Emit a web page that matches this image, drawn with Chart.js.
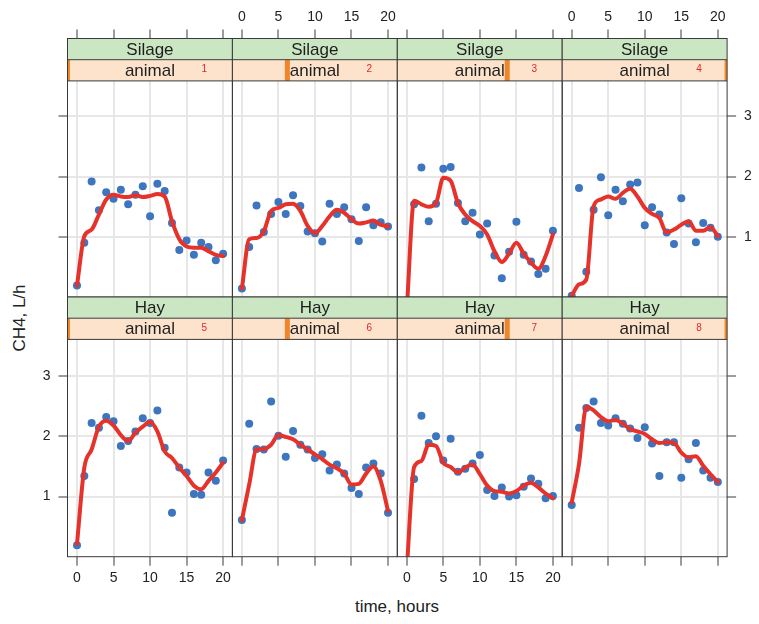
<!DOCTYPE html>
<html lang="en">
<head>
<meta charset="UTF-8">
<title>CH4 by animal and diet</title>
<script src="https://cdn.jsdelivr.net/npm/chart.js"></script>
<style>
  body { margin: 0; background: #fff; font-family: "Liberation Sans", Arial, sans-serif; }
  #wrap { position: relative; width: 759px; height: 624px; overflow: hidden; }
  #wrap canvas { position: absolute; left: 0; top: 0; }
  .ttl { position: absolute; color: #222; font-size: 17px; white-space: nowrap; transform: translate(-50%, -50%); }
  #yTitle { transform: translate(-50%, -50%) rotate(-90deg); }
</style>
</head>
<body>
<div id="wrap">
  <div class="ttl" id="xTitle" style="left:397px; top:607px;">time, hours</div>
  <div class="ttl" id="yTitle" style="left:20px; top:318px;">CH4, L/h</div>
</div>
<script>
// data
const hours = [0, 1, 2, 3, 4, 5, 6, 7, 8, 9, 10, 11, 12, 13, 14, 15, 16, 17, 18, 19, 20];
const xTicks = [0, 5, 10, 15, 20];
const yTicks = [1, 2, 3];
const diets = ['Silage', 'Silage', 'Silage', 'Silage', 'Hay', 'Hay', 'Hay', 'Hay'];
const animals = ['1', '2', '3', '4', '5', '6', '7', '8'];

const obs1 = [0.19, 0.90, 1.92, 1.44, 1.74, 1.63, 1.78, 1.54, 1.70, 1.84, 1.34, 1.88, 1.76, 1.23, 0.78, 0.94, 0.70, 0.90, 0.83, 0.61, 0.72];
const fit1 = [0.19, 1.01, 1.12, 1.37, 1.62, 1.70, 1.67, 1.66, 1.69, 1.66, 1.68, 1.71, 1.67, 1.26, 0.96, 0.84, 0.82, 0.82, 0.76, 0.70, 0.68];
const obs2 = [0.14, 0.83, 1.52, 1.08, 1.38, 1.58, 1.38, 1.69, 1.51, 1.09, 1.06, 0.92, 1.55, 1.38, 1.49, 1.29, 0.93, 1.49, 1.19, 1.24, 1.17];
const fit2 = [0.14, 0.96, 0.98, 1.09, 1.43, 1.48, 1.54, 1.55, 1.43, 1.18, 1.06, 1.18, 1.34, 1.45, 1.40, 1.29, 1.22, 1.24, 1.27, 1.20, 1.17];
const obs3 = [-0.2, 1.54, 2.15, 1.26, 1.55, 2.13, 2.16, 1.56, 1.26, 1.40, 1.04, 1.22, 0.69, 0.31, 0.75, 1.25, 0.70, 0.59, 0.38, 0.47, 1.10];
const fit3 = [-0.2, 1.60, 1.54, 1.50, 1.56, 1.98, 1.93, 1.56, 1.37, 1.26, 1.18, 1.04, 0.76, 0.58, 0.72, 0.90, 0.72, 0.57, 0.47, 0.68, 1.04];
const obs4 = [0.02, 1.81, 0.42, 1.45, 1.99, 1.36, 1.78, 1.59, 1.87, 1.90, 1.19, 1.49, 1.37, 1.07, 0.88, 1.64, 1.22, 0.91, 1.23, 1.15, 1.00];
const fit4 = [0.02, 0.21, 0.29, 1.51, 1.62, 1.67, 1.63, 1.73, 1.80, 1.67, 1.48, 1.38, 1.31, 1.07, 1.12, 1.20, 1.26, 1.10, 1.10, 1.16, 1.01];
const obs5 = [0.19, 1.34, 2.22, 2.14, 2.32, 2.25, 1.84, 1.92, 2.08, 2.30, 2.22, 2.43, 1.81, 0.73, 1.48, 1.40, 1.04, 1.03, 1.40, 1.26, 1.60];
const fit5 = [0.21, 1.48, 1.78, 2.16, 2.26, 2.18, 2.02, 1.92, 2.06, 2.16, 2.24, 2.08, 1.75, 1.64, 1.48, 1.34, 1.18, 1.12, 1.26, 1.40, 1.56];
const obs6 = [0.61, 2.21, 1.79, 1.78, 2.58, 2.01, 1.66, 2.09, 1.86, 1.78, 1.64, 1.70, 1.43, 1.53, 1.38, 1.14, 1.04, 1.48, 1.55, 1.38, 0.73];
const fit6 = [0.61, 1.20, 1.78, 1.79, 1.86, 2.02, 1.99, 1.95, 1.86, 1.78, 1.70, 1.62, 1.53, 1.47, 1.38, 1.20, 1.21, 1.38, 1.50, 1.26, 0.76];
const obs7 = [-0.2, 1.29, 2.34, 1.89, 2.00, 1.60, 1.96, 1.41, 1.46, 1.55, 1.69, 1.11, 1.01, 1.15, 1.00, 1.02, 1.16, 1.30, 1.21, 0.97, 1.01];
const fit7 = [-0.2, 1.49, 1.59, 1.86, 1.84, 1.56, 1.49, 1.40, 1.48, 1.53, 1.37, 1.18, 1.09, 1.08, 1.05, 1.09, 1.18, 1.23, 1.15, 1.05, 0.97];
const obs8 = [0.86, 2.14, 2.47, 2.58, 2.22, 2.18, 2.30, 2.21, 2.13, 1.97, 2.15, 1.88, 1.34, 1.90, 1.90, 1.31, 1.62, 1.89, 1.43, 1.31, 1.24];
const fit8 = [0.90, 1.54, 2.49, 2.43, 2.32, 2.25, 2.27, 2.21, 2.12, 2.08, 2.04, 1.95, 1.89, 1.90, 1.89, 1.73, 1.65, 1.67, 1.51, 1.37, 1.24];

const allObs = [obs1, obs2, obs3, obs4, obs5, obs6, obs7, obs8];
const allFit = [fit1, fit2, fit3, fit4, fit5, fit6, fit7, fit8];

// layout of the lattice
const W = 759, H = 624;
const panelLeft0 = 67.5, panelW = 164.9;
const rowTop = [38.5, 297], rowBottom = [297, 556.7];
const stripH = 21.2;
const pxPerUnit = 60.2;
const xMin = -1.3, xMax = 21.27;
const font = '"Liberation Sans", Arial, sans-serif';

const stripPlugin = {
  id: 'strips',
  afterDraw(chart, args, o) {
    const ctx = chart.ctx, a = chart.chartArea;
    ctx.save();
    ctx.fillStyle = '#cbe6c3';
    ctx.fillRect(a.left, a.top, a.width, stripH);
    ctx.fillStyle = '#fde3cc';
    ctx.fillRect(a.left, a.top + stripH, a.width, stripH);

    // level indicator in the animal strip
    ctx.save();
    ctx.beginPath();
    ctx.rect(a.left, a.top + stripH, a.width, stripH);
    ctx.clip();
    ctx.fillStyle = '#f2852a';
    ctx.fillRect(a.left + a.width * o.level / 3 - 2.5, a.top + stripH, 5, stripH);
    ctx.restore();

    ctx.fillStyle = '#1e1e1e';
    ctx.textAlign = 'center';
    ctx.textBaseline = 'middle';
    ctx.font = '17px ' + font;
    const cx = a.left + a.width / 2;
    ctx.fillText(o.diet, cx, a.top + stripH / 2 + 1);
    ctx.fillText('animal', cx, a.top + stripH * 1.5 + 1);
    ctx.fillStyle = '#e3262b';
    ctx.font = '10px ' + font;
    ctx.fillText(o.animal, a.left + a.width * 0.83, a.top + stripH * 1.5 - 1);

    ctx.strokeStyle = '#3a3a3a';
    ctx.lineWidth = 1;
    ctx.beginPath();
    ctx.moveTo(a.left, a.top + stripH); ctx.lineTo(a.right, a.top + stripH);
    ctx.moveTo(a.left, a.top + 2 * stripH); ctx.lineTo(a.right, a.top + 2 * stripH);
    ctx.stroke();
    ctx.strokeRect(a.left, a.top, a.width, a.height);
    ctx.restore();
  }
};

function makePanel(i) {
  const row = i < 4 ? 0 : 1, col = i % 4;
  const left = panelLeft0 + col * panelW, right = left + panelW;
  const top = rowTop[row], bottom = rowBottom[row];
  const yMax = (bottom - top) / pxPerUnit;
  const xLabels = row === 0 ? col % 2 === 1 : col % 2 === 0;
  const ySide = col === 0 ? 'left' : (col === 3 ? 'right' : null);
  const yLabels = (col === 0 && row === 1) || (col === 3 && row === 0);
  const xAxisH = row === 0 ? top : 40;
  const yAxisW = ySide ? 30 : 0;

  const canvas = document.createElement('canvas');
  canvas.width = W; canvas.height = H;
  document.getElementById('wrap').appendChild(canvas);

  const pts = hours.map((h, k) => ({ x: h, y: allObs[i][k] }));
  const fit = hours.map((h, k) => ({ x: h, y: allFit[i][k] }));

  new Chart(canvas, {
    type: 'line',
    data: {
      datasets: [
        { data: fit, borderColor: '#e5322a', borderWidth: 4, pointRadius: 0,
          cubicInterpolationMode: 'monotone', borderCapStyle: 'round', borderJoinStyle: 'round', clip: 0 },
        { data: pts, showLine: false, pointRadius: 4, pointBorderWidth: 0,
          pointBackgroundColor: '#3d75bf', borderColor: '#3d75bf', clip: 0 }
      ]
    },
    options: {
      responsive: false,
      animation: false,
      events: [],
      layout: {
        autoPadding: false,
        padding: {
          top: row === 0 ? 0 : top,
          bottom: row === 0 ? H - bottom : H - bottom - xAxisH,
          left: ySide === 'left' ? left - yAxisW : left,
          right: ySide === 'right' ? W - right - yAxisW : W - right
        }
      },
      plugins: {
        legend: { display: false },
        tooltip: { enabled: false },
        strips: { diet: diets[i], animal: animals[i], level: col }
      },
      scales: {
        x: {
          type: 'linear',
          position: row === 0 ? 'top' : 'bottom',
          min: xMin, max: xMax,
          afterBuildTicks: s => { s.ticks = xTicks.map(v => ({ value: v })); },
          afterFit: s => { s.height = xAxisH; },
          grid: { color: '#e7e7e7', lineWidth: 2, tickColor: '#3a3a3a', tickWidth: 1, tickLength: 9 },
          border: { display: false },
          ticks: { display: xLabels, padding: 4, maxRotation: 0, color: '#222', font: { size: 14, family: font } }
        },
        y: {
          type: 'linear',
          position: ySide || 'left',
          min: 0, max: yMax,
          afterBuildTicks: s => { s.ticks = yTicks.map(v => ({ value: v })); },
          afterFit: s => { s.width = yAxisW; },
          grid: { color: '#e7e7e7', lineWidth: 2, tickColor: '#3a3a3a', tickWidth: 1, tickLength: 9, drawTicks: !!ySide },
          border: { display: false },
          ticks: { display: yLabels, padding: 8, color: '#222', font: { size: 14, family: font } }
        }
      }
    },
    plugins: [stripPlugin]
  });
}

for (let i = 0; i < 8; i++) makePanel(i);
</script>
</body>
</html>
